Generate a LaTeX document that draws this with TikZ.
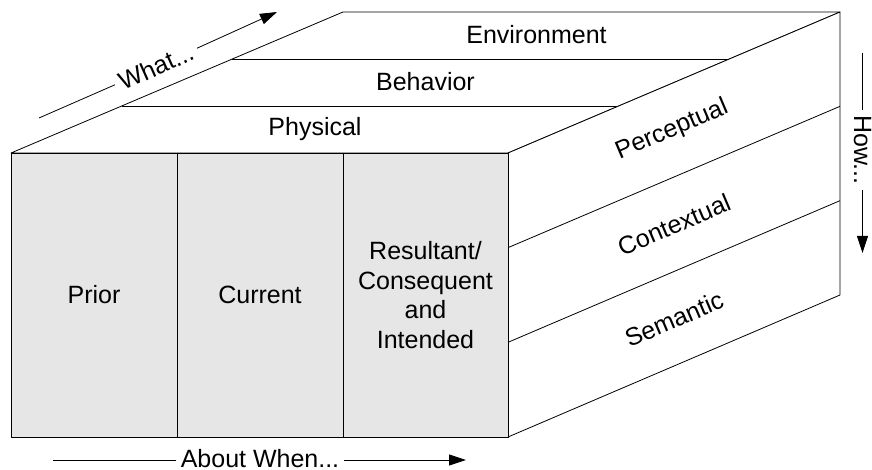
\documentclass[tikz,border=0pt]{standalone}
\usepackage{fontspec}
\setmainfont{Liberation Sans}
\usetikzlibrary{arrows.meta,calc}
\begin{document}
\begin{tikzpicture}[x=1pt,y=-1pt,
  edge/.style={draw=black,line width=0.8pt,line join=round},
  lbl/.style={font=\fontsize{25}{29.5}\selectfont,inner sep=0pt,align=center},
  axislbl/.style={font=\fontsize{25}{29.5}\selectfont,inner xsep=5pt,inner ysep=0pt},
  axis/.style={draw=black,line width=0.8pt},
  axisarrow/.style={axis,-{Triangle[length=17pt,width=11pt]}}
]
\useasboundingbox (0,0) rectangle (872,470);

% cube corners
\coordinate (FTL) at (11,153);
\coordinate (FTR) at (508,153);
\coordinate (FBL) at (11,437);
\coordinate (FBR) at (508,437);
\coordinate (BTL) at (343,12);
\coordinate (BTR) at (840,12);
\coordinate (BBR) at (840,295);

% top face with its three layers
\draw[edge,fill=white] (FTL) -- (BTL) -- (BTR) -- (FTR) -- cycle;
\draw[edge] ($(FTL)!1/3!(BTL)$) -- ($(FTR)!1/3!(BTR)$);
\draw[edge] ($(FTL)!2/3!(BTL)$) -- ($(FTR)!2/3!(BTR)$);

% right face with its three layers
\draw[edge,fill=white] (FTR) -- (BTR) -- (BBR) -- (FBR) -- cycle;
\draw[edge] ($(FTR)!1/3!(FBR)$) -- ($(BTR)!1/3!(BBR)$);
\draw[edge] ($(FTR)!2/3!(FBR)$) -- ($(BTR)!2/3!(BBR)$);

% front face with three columns
\draw[edge,fill={rgb,255:red,230;green,230;blue,230}] (FTL) rectangle (FBR);
\draw[edge] (177,153) -- (177,437);
\draw[edge] (343,153) -- (343,437);

% top face labels
\node[lbl] (phys) at (315,129) {Physical};
\node[lbl] (behav) at (425.5,82) {Behavior};
\node[lbl] (envir) at (536.5,35) {Environment};

% right face labels
\node[lbl,rotate=23] (percep) at (672,130) {Perceptual};
\node[lbl,rotate=23] (context) at (674,224.5) {Contextual};
\node[lbl,rotate=23] (seman) at (674,319) {Semantic};

% front face labels
\node[lbl] (prior) at (94,295) {Prior};
\node[lbl] (current) at (260,295) {Current};
\node[lbl] (result) at (425.5,295) {Resultant/\\Consequent\\and\\Intended};

% axis: What...
\coordinate (w1) at (39,118);
\coordinate (w2) at (277,12);
\node[axislbl,rotate=24] (what) at (156,66.5) {What...};
\draw[axis] (w1) -- (what.west);
\draw[axisarrow] (what.east) -- (w2);

% axis: About When...
\coordinate (a1) at (53,460);
\coordinate (a2) at (466,460);
\node[axislbl] (about) at (260,459) {About When...};
\draw[axis] (a1) -- (about.west |- a1);
\draw[axisarrow] (about.east |- a1) -- (a2);

% axis: How...
\coordinate (h1) at (862.5,53);
\coordinate (h2) at (862.5,253);
\node[axislbl,rotate=-90] (how) at (862.5,150) {How...};
\draw[axis] (h1) -- (how.west -| h1);
\draw[axisarrow] (how.east -| h1) -- (h2);
\end{tikzpicture}
\end{document}
